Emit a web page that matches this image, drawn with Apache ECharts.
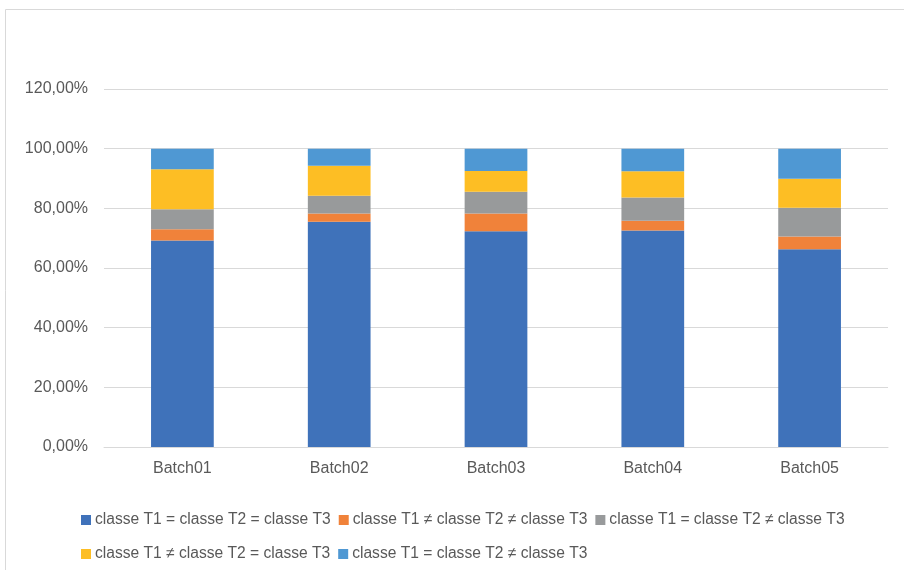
<!DOCTYPE html>
<html>
<head>
<meta charset="utf-8">
<script src="https://cdn.jsdelivr.net/npm/echarts@6/dist/echarts.min.js"></script>
<style>
html, body { margin: 0; padding: 0; background: #fff; }
#chart { width: 904px; height: 570px; }
</style>
</head>
<body>
<div id="chart"></div>
<script>
var batches = ['Batch01', 'Batch02', 'Batch03', 'Batch04', 'Batch05'];
var yTicks = [0, 20, 40, 60, 80, 100, 120];

var serieNames = [
    'classe T1 = classe T2 = classe T3',
    'classe T1 \u2260 classe T2 \u2260 classe T3',
    'classe T1 = classe T2 \u2260 classe T3',
    'classe T1 \u2260 classe T2 = classe T3',
    'classe T1 = classe T2 \u2260 classe T3 '
];
var serieColors = ['#3F72BA', '#F0823A', '#989A9B', '#FDBE24', '#4F98D3'];

// values in %
var allEqual = [69.2, 75.5, 72.3, 72.6, 66.3];
var allDiff = [3.8, 2.8, 6.0, 3.2, 4.3];
var t12Diff3 = [6.7, 5.9, 7.3, 7.8, 9.6];
var t1Diff23 = [13.4, 10.1, 6.9, 8.8, 9.7];
var t12Diff3b = [6.9, 5.7, 7.5, 7.6, 10.1];

var serieData = [allEqual, allDiff, t12Diff3, t1Diff23, t12Diff3b];

function pct(v) {
    return v.toFixed(2).replace('.', ',') + '%';
}

var chart = echarts.init(document.getElementById('chart'));

var series = [];
for (var i = 0; i < serieData.length; i++) {
    series.push({
        name: serieNames[i],
        type: 'bar',
        stack: 'total',
        barWidth: '40%',
        data: serieData[i],
        itemStyle: { color: serieColors[i] }
    });
}

var op = {
    animation: false,
    color: serieColors,
    textStyle: { fontFamily: 'Liberation Sans' },
    graphic: [{
        type: 'rect',
        shape: { x: 5.5, y: 9.5, width: 920, height: 600 },
        style: { fill: 'none', stroke: '#D9D9D9', lineWidth: 1 },
        silent: true
    }],
    grid: {
        left: 104,
        right: 16,
        top: 89,
        bottom: 123
    },
    xAxis: {
        type: 'category',
        data: batches,
        axisLine: { lineStyle: { color: '#D9D9D9' } },
        axisTick: { show: false },
        axisLabel: { color: '#595959', fontSize: 16, margin: 14 }
    },
    yAxis: {
        type: 'value',
        min: yTicks[0],
        max: yTicks[yTicks.length - 1],
        interval: 20,
        axisLine: { show: false },
        axisTick: { show: false },
        splitLine: { lineStyle: { color: '#D9D9D9' } },
        axisLabel: {
            color: '#595959',
            fontSize: 16,
            margin: 16,
            formatter: function (v) { return pct(v); }
        }
    },
    legend: {
        data: serieNames,
        left: 76,
        top: 502,
        width: 800,
        itemWidth: 10,
        itemHeight: 10,
        itemGap: 8,
        icon: 'rect',
        textStyle: { color: '#595959', fontSize: 15.6, lineHeight: 26, padding: [0, 0, 0, -1] }
    },
    series: series
};
chart.setOption(op);
</script>
</body>
</html>
